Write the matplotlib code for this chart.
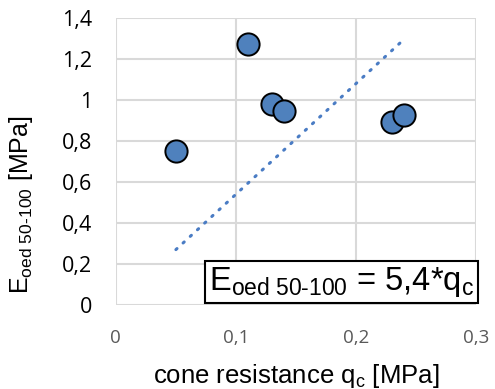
import matplotlib.pyplot as plt
import numpy as np

plt.rcParams['mathtext.fontset'] = 'custom'
plt.rcParams['mathtext.rm'] = 'Liberation Sans'
plt.rcParams['mathtext.it'] = 'Liberation Sans'

# cone resistance [MPa] and oedometer modulus [MPa]
qc = [0.05, 0.11, 0.13, 0.14, 0.23, 0.24]
e_oed = [0.75, 1.275, 0.98, 0.945, 0.89, 0.925]
slope = 5.4
x_ticks = [0, 0.1, 0.2, 0.3]
y_ticks = [0, 0.2, 0.4, 0.6, 0.8, 1.0, 1.2, 1.4]

blue = '#4f81bd'

fig = plt.figure(figsize=(4.95, 3.89), dpi=100)
ax = fig.add_axes([0.234, 0.216, 0.728, 0.738])

# trend line through origin, over the data range
xt = np.array([min(qc), max(qc)])
ax.plot(xt, slope * xt, color='#4a7cc4', lw=2.2, linestyle=(0, (0.5, 2.7)),
        dash_capstyle='round', zorder=2)
ax.plot(qc, e_oed, 'o', ms=16, mfc=blue, mec='black', mew=1.4, zorder=3)

ax.set_xlim(0, 0.3)
ax.set_ylim(0, 1.4)
ax.set_xticks(x_ticks)
ax.set_yticks(y_ticks)
ax.set_xticklabels([('%g' % v).replace('.', ',') for v in x_ticks],
                   fontsize=13.5, color='#595959', family='Open Sans')
ax.set_yticklabels([('%g' % v).replace('.', ',') for v in y_ticks],
                   fontsize=15.5, color='black', family='Open Sans')
ax.tick_params(length=0)
ax.tick_params(axis='y', pad=17)
ax.tick_params(axis='x', pad=17)
for s in ax.spines.values():
    s.set_visible(False)
ax.grid(True, color='#d9d9d9', lw=1.5)
ax.set_axisbelow(True)

ax.set_xlabel(r'cone resistance q$_\mathregular{c}$ [MPa]', fontsize=18.5,
              family='Liberation Sans', labelpad=11)
ax.set_ylabel(r'E$_\mathregular{oed\ 50\text{-}100}$ [MPa]', fontsize=18,
              family='Liberation Sans')
ax.yaxis.set_label_coords(-0.225, 0.35)

ax.text(0.995, 0.02, r'E$_\mathregular{oed\ 50\text{-}100}$ = 5,4*q$_\mathregular{c}$',
        transform=ax.transAxes, ha='right', va='bottom', fontsize=23.5,
        family='Liberation Sans', zorder=4,
        bbox=dict(boxstyle='square,pad=0.12', fc='white', ec='black', lw=1.5))

fig.savefig('out.png', dpi=100)
